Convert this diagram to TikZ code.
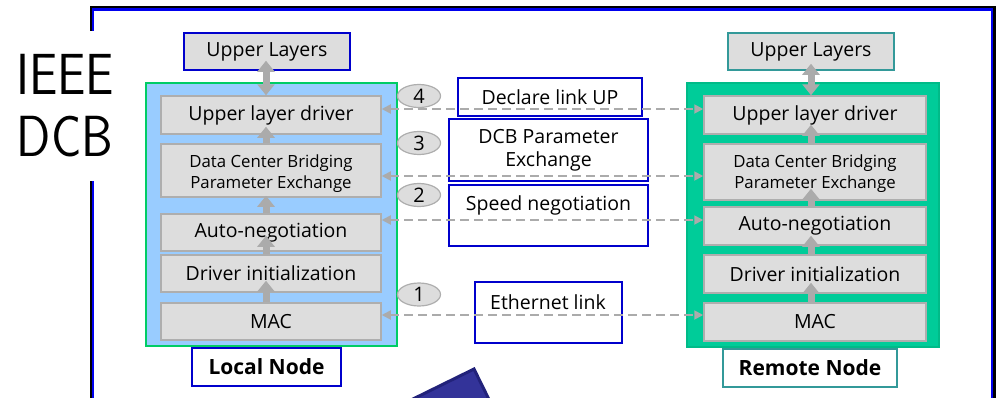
\documentclass[tikz,border=0pt]{standalone}
\usepackage{fontspec}
\setmainfont{Open Sans}
\usetikzlibrary{arrows.meta,shapes.geometric,calc}

\definecolor{boxgray}{HTML}{DDDDDD}
\definecolor{edgegray}{HTML}{AEAEAE}
\definecolor{arrowgray}{HTML}{ABABAB}
\definecolor{localfill}{HTML}{99CCFF}
\definecolor{localedge}{HTML}{00CC66}
\definecolor{remotefill}{HTML}{00CC99}
\definecolor{remoteedge}{HTML}{00BB88}
\definecolor{labelblue}{HTML}{0000CC}
\definecolor{tealedge}{HTML}{339999}
\definecolor{navyfill}{HTML}{333399}
\definecolor{navyedge}{HTML}{22227A}
\definecolor{frameblue}{HTML}{0000EE}

\tikzset{
  layer/.style={draw=edgegray, line width=1.5pt, fill=boxgray, inner sep=0pt,
    align=center, font=\fontsize{19.5}{20}\selectfont},
  pairtext/.style={font=\fontsize{16.8}{21}\selectfont},
  lcol/.style={minimum width=220pt},
  rcol/.style={minimum width=222pt},
  panel/.style={inner sep=0pt, line width=1.5pt},
  tag/.style={draw=labelblue, line width=1.6pt, fill=white, inner sep=0pt,
    align=center, font=\fontsize{19.5}{23}\selectfont},
  tagtext/.style={inner sep=0pt, font=\fontsize{19.5}{23}\selectfont},
  nametext/.style={font=\bfseries\fontsize{21}{22}\selectfont},
  stepnum/.style={ellipse, draw=edgegray, fill=boxgray, line width=1.2pt,
    minimum width=43pt, minimum height=23pt, inner sep=0pt,
    font=\fontsize{20}{20}\selectfont},
  link/.style={draw=arrowgray, line width=1.8pt, dash pattern=on 9pt off 5pt,
    {Triangle[width=9pt,length=9pt]}-{Triangle[width=9pt,length=9pt]}},
  liftarrow/.style={draw=arrowgray, line width=7pt,
    -{Triangle[width=17pt,length=11pt]}},
  duplexarrow/.style={draw=arrowgray, line width=7pt,
    {Triangle[width=17pt,length=11pt]}-{Triangle[width=17pt,length=11pt]}},
}

\begin{document}
\begin{tikzpicture}[x=1pt,y=-1pt]
\useasboundingbox (0,0) rectangle (996,397);

% outer slide frame and the navy slab at the bottom
\begin{scope}
  \clip (0,0) rectangle (996,397);
  \draw[black, line width=2.6pt] (90.8,7) rectangle (994.7,430);
  \draw[frameblue, line width=2.4pt] (93,9.5) rectangle (992.2,430);
  \filldraw[fill=navyfill, draw=navyedge, line width=3pt]
    (474,369) -- (384.3,413.1) -- (410.8,466.9) -- (500.5,422.8) -- cycle;
\end{scope}

% title
\node[fill=white, minimum width=80pt, minimum height=150pt, inner sep=0pt,
  align=center, font=\sffamily\fontsize{58}{62}\selectfont] (title) at (65,106)
  {\scalebox{0.87}[1]{IEEE}\\\scalebox{0.87}[1]{DCB}};

% node panels
\node[panel, fill=localfill, draw=localedge, minimum width=251pt,
  minimum height=263pt] (lpanel) at (271.5,214.5) {};
\node[panel, fill=remotefill, draw=remoteedge, minimum width=252pt,
  minimum height=264pt] (rpanel) at (813,215) {};

% local stack
\node[layer, lcol, minimum height=38pt] (lULD) at (271,115) {Upper layer driver};
\node[layer, lcol, pairtext, minimum height=53pt] (lDCB) at (271,170.5)
  {\rule{0pt}{19pt}Data Center Bridging\\Parameter Exchange};
\node[layer, lcol, minimum height=37pt] (lAuto) at (271,232.5) {Auto-negotiation};
\node[layer, lcol, minimum height=37pt] (lDrv) at (271,273.5) {Driver initialization};
\node[layer, lcol, minimum height=37pt] (lMAC) at (271,321.5) {MAC};

% remote stack
\node[layer, rcol, minimum height=38pt] (rULD) at (815,115) {Upper layer driver};
\node[layer, rcol, pairtext, minimum height=56pt] (rDCB) at (815,172)
  {\rule{0pt}{17pt}Data Center Bridging\\Parameter Exchange};
\node[layer, rcol, minimum height=38pt] (rAuto) at (815,226) {Auto-negotiation};
\node[layer, rcol, minimum height=38pt] (rDrv) at (815,274) {Driver initialization};
\node[layer, rcol, minimum height=38pt] (rMAC) at (815,322) {MAC};

% upper layers
\node[layer, draw=labelblue, minimum width=166pt, minimum height=37pt] (lUL) at (267,51.5) {Upper Layers};
\node[layer, draw=tealedge, minimum width=166pt, minimum height=37pt] (rUL) at (811,51.5) {Upper Layers};

% node names
\node[tag, nametext, minimum width=149pt, minimum height=38pt] (lname) at (266.5,367) {Local Node};
\node[tag, nametext, draw=tealedge, minimum width=174pt, minimum height=38pt] (rname) at (810,368) {Remote Node};

% vertical flow inside each stack
\coordinate (lx) at (266,0);
\coordinate (rx) at (811,0);
\draw[duplexarrow] ($(lx |- lUL.south)+(0,-10)$) -- (lx |- lULD.north);
\draw[liftarrow] (lx |- lDCB.north) -- ($(lx |- lULD.south)+(0,-8)$);
\draw[liftarrow] (lx |- lAuto.north) -- ($(lx |- lDCB.south)+(0,-2)$);
\draw[liftarrow] (lx |- lDrv.north) -- ($(lx |- lAuto.south)+(0,-16)$);
\draw[liftarrow] (lx |- lMAC.north) -- ($(lx |- lDrv.south)+(0,-12)$);

\draw[duplexarrow] ($(rx |- rUL.south)+(0,-7)$) -- (rx |- rULD.north);
\draw[liftarrow] (rx |- rDCB.north) -- ($(rx |- rULD.south)+(0,-10)$);
\draw[liftarrow] (rx |- rAuto.north) -- ($(rx |- rDCB.south)+(0,-12)$);
\draw[liftarrow] (rx |- rDrv.north) -- ($(rx |- rAuto.south)+(0,-10)$);
\draw[liftarrow] (rx |- rMAC.north) -- ($(rx |- rDrv.south)+(0,-11)$);

% exchange labels
\node[tag, minimum width=184pt, minimum height=38pt] (declbox) at (550,97) {Declare link UP};
\node[tag, minimum width=199pt, minimum height=62pt] (dcbxbox) at (548.5,150)
  {DCB Parameter\\Exchange};
\node[tag, minimum width=199pt, minimum height=61pt] (spdbox) at (548.5,215.5) {};
\node[tagtext] (spdtext) at (548.5,205) {Speed negotiation};
\node[tag, minimum width=147pt, minimum height=61pt] (ethbox) at (548.5,312.5) {};
\node[tagtext] (ethtext) at (548,302) {Ethernet link};

% peer exchanges
\coordinate (y4) at (0,109);
\coordinate (y3) at (0,176);
\coordinate (y2) at (0,220);
\coordinate (y1) at (0,315);
\draw[link] (lULD.east |- y4) -- (rULD.west |- y4);
\draw[link] (lDCB.east |- y3) -- (rDCB.west |- y3);
\draw[link] (lAuto.east |- y2) -- (rAuto.west |- y2);
\draw[link] (lMAC.east |- y1) -- (rMAC.west |- y1);

% step numbers
\node[stepnum] (s4) at (419,96) {4};
\node[stepnum] (s3) at (419,143) {3};
\node[stepnum] (s2) at (419,195) {2};
\node[stepnum] (s1) at (419,294.5) {1};
\end{tikzpicture}
\end{document}
